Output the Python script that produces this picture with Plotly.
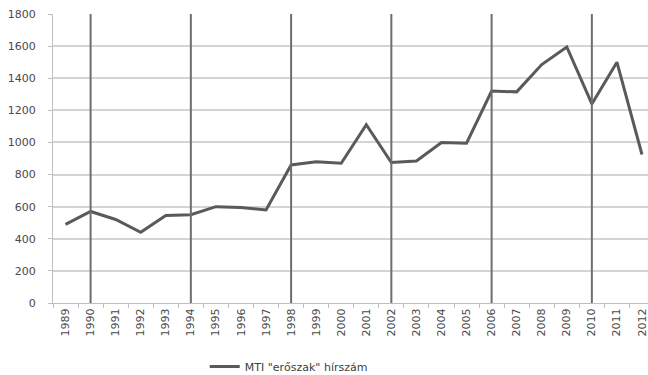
import plotly.graph_objects as go

years = [str(y) for y in range(1989, 2013)]
counts = [490, 570, 520, 440, 545, 550, 600, 595, 580, 860, 880, 870,
          1110, 875, 885, 1000, 995, 1320, 1315, 1485, 1595, 1240, 1500, 925]
marked_years = ["1990", "1994", "1998", "2002", "2006", "2010"]
y_ticks = [0, 200, 400, 600, 800, 1000, 1200, 1400, 1600, 1800]
series_name = 'MTI "erőszak" hírszám'

FONT = "DejaVu Sans"
TXT = "#4a4a4a"

fig = go.Figure()
fig.add_trace(go.Scatter(
    x=years, y=counts, mode="lines", name=series_name,
    line=dict(color="#5a5a5a", width=3), showlegend=True,
))

for yr in marked_years:
    fig.add_shape(type="line", xref="x", yref="y",
                  x0=years.index(yr), x1=years.index(yr), y0=0, y1=1800,
                  line=dict(color="#6e6e6e", width=2), layer="above")

fig.update_layout(
    width=648, height=375,
    margin=dict(l=53, r=0, t=14, b=72, autoexpand=False),
    paper_bgcolor="white", plot_bgcolor="white",
    font=dict(family=FONT, size=11, color=TXT),
    showlegend=True,
    legend=dict(orientation="h", x=0.255, xanchor="left", y=-0.22, yanchor="middle",
                font=dict(family=FONT, size=11, color="#404040"),
                itemwidth=30),
)
fig.update_xaxes(
    type="category", categoryorder="array", categoryarray=years,
    range=[-0.5, 23.24], tickson="boundaries", ticks="outside", ticklen=4,
    tickcolor="#bfbfbf", showgrid=False, showline=True, linecolor="#bfbfbf",
    linewidth=1, tickangle=-90, tickfont=dict(size=11, color=TXT),
    automargin=False,
)
fig.update_yaxes(
    range=[0, 1800], tickvals=y_ticks, ticks="outside", ticklen=4,
    tickcolor="#bfbfbf", showgrid=True, gridcolor="#d4d4d4", gridwidth=2,
    showline=True, linecolor="#bfbfbf", zeroline=False,
    tickfont=dict(size=11, color=TXT), ticklabelstandoff=10,
    automargin=False,
)

fig.write_html(
    "out.html",
    config={"displayModeBar": False},
    post_script="document.body.style.margin='0';document.body.style.overflow='hidden';",
)
